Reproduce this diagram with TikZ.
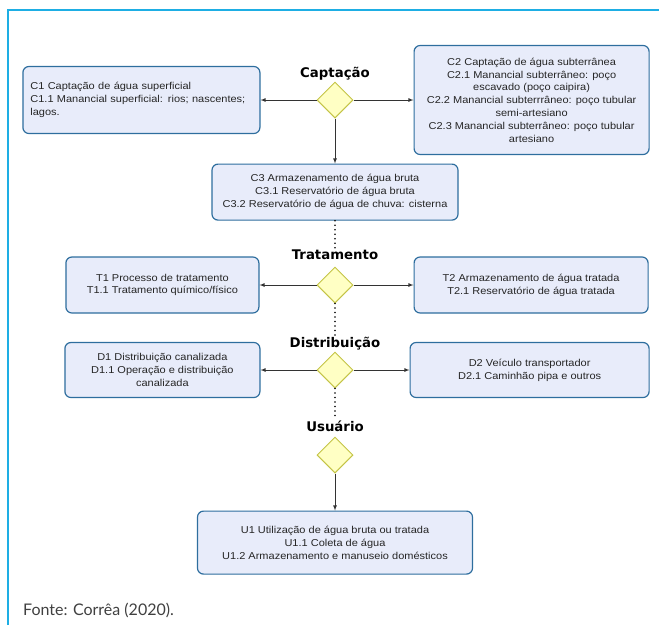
\documentclass[tikz,border=0pt]{standalone}
\usepackage{fontspec}
\setmainfont{Liberation Sans}
\newfontfamily\boxfont[FakeStretch=1.1]{Liberation Sans}
\newfontfamily\stagefont{DejaVu Sans}
\newfontfamily\srcfont{Lato}
\usetikzlibrary{shapes.geometric, arrows, positioning}
\definecolor{boxfill}{RGB}{232,236,250}
\definecolor{boxedge}{RGB}{46,110,158}
\definecolor{gatefill}{RGB}{255,255,196}
\definecolor{gateedge}{RGB}{196,196,70}
\definecolor{framecol}{RGB}{30,174,228}
\definecolor{linecol}{RGB}{51,51,51}
\tikzstyle{stepbox}=[rectangle, rounded corners=6pt, draw=boxedge, fill=boxfill, line width=1.2pt, align=center, text=black!85, font=\boxfont\fontsize{10}{12.8}\selectfont, inner sep=3pt]
\tikzstyle{gate}=[diamond, aspect=1, draw=gateedge, fill=gatefill, line width=1pt, minimum size=36pt, inner sep=0pt]
\tikzstyle{stage}=[font=\stagefont\bfseries\fontsize{13.3}{15}\selectfont, inner sep=1pt]
\tikzstyle{arrow}=[linecol, line width=0.8pt, ->, >=latex]
\tikzstyle{dots}=[line width=1.6pt, line cap=round, dash pattern=on 0pt off 4.5pt]
\begin{document}
\begin{tikzpicture}[x=1pt, y=1pt]
		\useasboundingbox (0,0) rectangle (659,-625);
		\draw[framecol, line width=2pt] (8,-625) -- (8,-10) -- (659,-10);
		
		\node(cap)[gate] at (335,-100){};
		\node(trt)[gate] at (335,-285){};
		\node(dis)[gate] at (335,-370){};
		\node(usr)[gate] at (335,-455){};
		\node(lcap)[stage, above=0pt of cap]{Captação};
		\node(ltrt)[stage, above=6pt of trt]{Tratamento};
		\node(ldis)[stage, above=0pt of dis]{Distribuição};
		\node(lusr)[stage, above=4pt of usr]{Usuário};
		\node(c1)[stepbox, left=56pt of cap, minimum width=237pt, minimum height=67pt, text width=222pt, align=left]{C1 Captação de água superficial\\C1.1 Manancial superficial: rios; nascentes;\\lagos.};
		\node(c2)[stepbox, right=60pt of cap, minimum width=235pt, minimum height=109pt]{C2 Captação de água subterrânea\\C2.1 Manancial subterrâneo: poço\\escavado (poço caipira)\\C2.2 Manancial subterrrâneo: poço tubular\\semi-artesiano\\C2.3 Manancial subterrâneo: poço tubular\\artesiano};
		\node(c3)[stepbox, below=45pt of cap, minimum width=246pt, minimum height=56pt]{C3 Armazenamento de água bruta\\C3.1 Reservatório de água bruta\\C3.2 Reservatório de água de chuva: cisterna};
		\node(t1)[stepbox, left=57pt of trt, minimum width=193pt, minimum height=56pt]{T1 Processo de tratamento\\T1.1 Tratamento químico/físico};
		\node(t2)[stepbox, right=60pt of trt, minimum width=234pt, minimum height=56pt]{T2 Armazenamento de água tratada\\T2.1 Reservatório de água tratada};
		\node(d1)[stepbox, left=56pt of dis, minimum width=195pt, minimum height=55pt]{D1 Distribuição canalizada\\D1.1 Operação e distribuição\\canalizada};
		\node(d2)[stepbox, right=56pt of dis, minimum width=239pt, minimum height=55pt]{D2 Veículo transportador\\D2.1 Caminhão pipa e outros};
		\node(u1)[stepbox, below=37pt of usr, minimum width=275pt, minimum height=63pt]{U1 Utilização de água bruta ou tratada\\U1.1 Coleta de água\\U1.2 Armazenamento e manuseio domésticos};
		\node(src)[font=\srcfont\fontsize{16}{19}\selectfont, text=black!75, anchor=base west, inner sep=0pt] at (23,-615){Fonte: Corrêa (2020).};
		
		\draw[arrow](cap)--(c1);
		\draw[arrow](cap)--(c2);
		\draw[arrow](cap)--(c3);
		\draw[arrow](trt)--(t1);
		\draw[arrow](trt)--(t2);
		\draw[arrow](dis)--(d1);
		\draw[arrow](dis)--(d2);
		\draw[arrow](usr)--(u1);
		\draw[dots](c3)--(ltrt);
		\draw[dots](trt)--(ldis);
		\draw[dots](dis)--(lusr);
	\end{tikzpicture}
\end{document}
